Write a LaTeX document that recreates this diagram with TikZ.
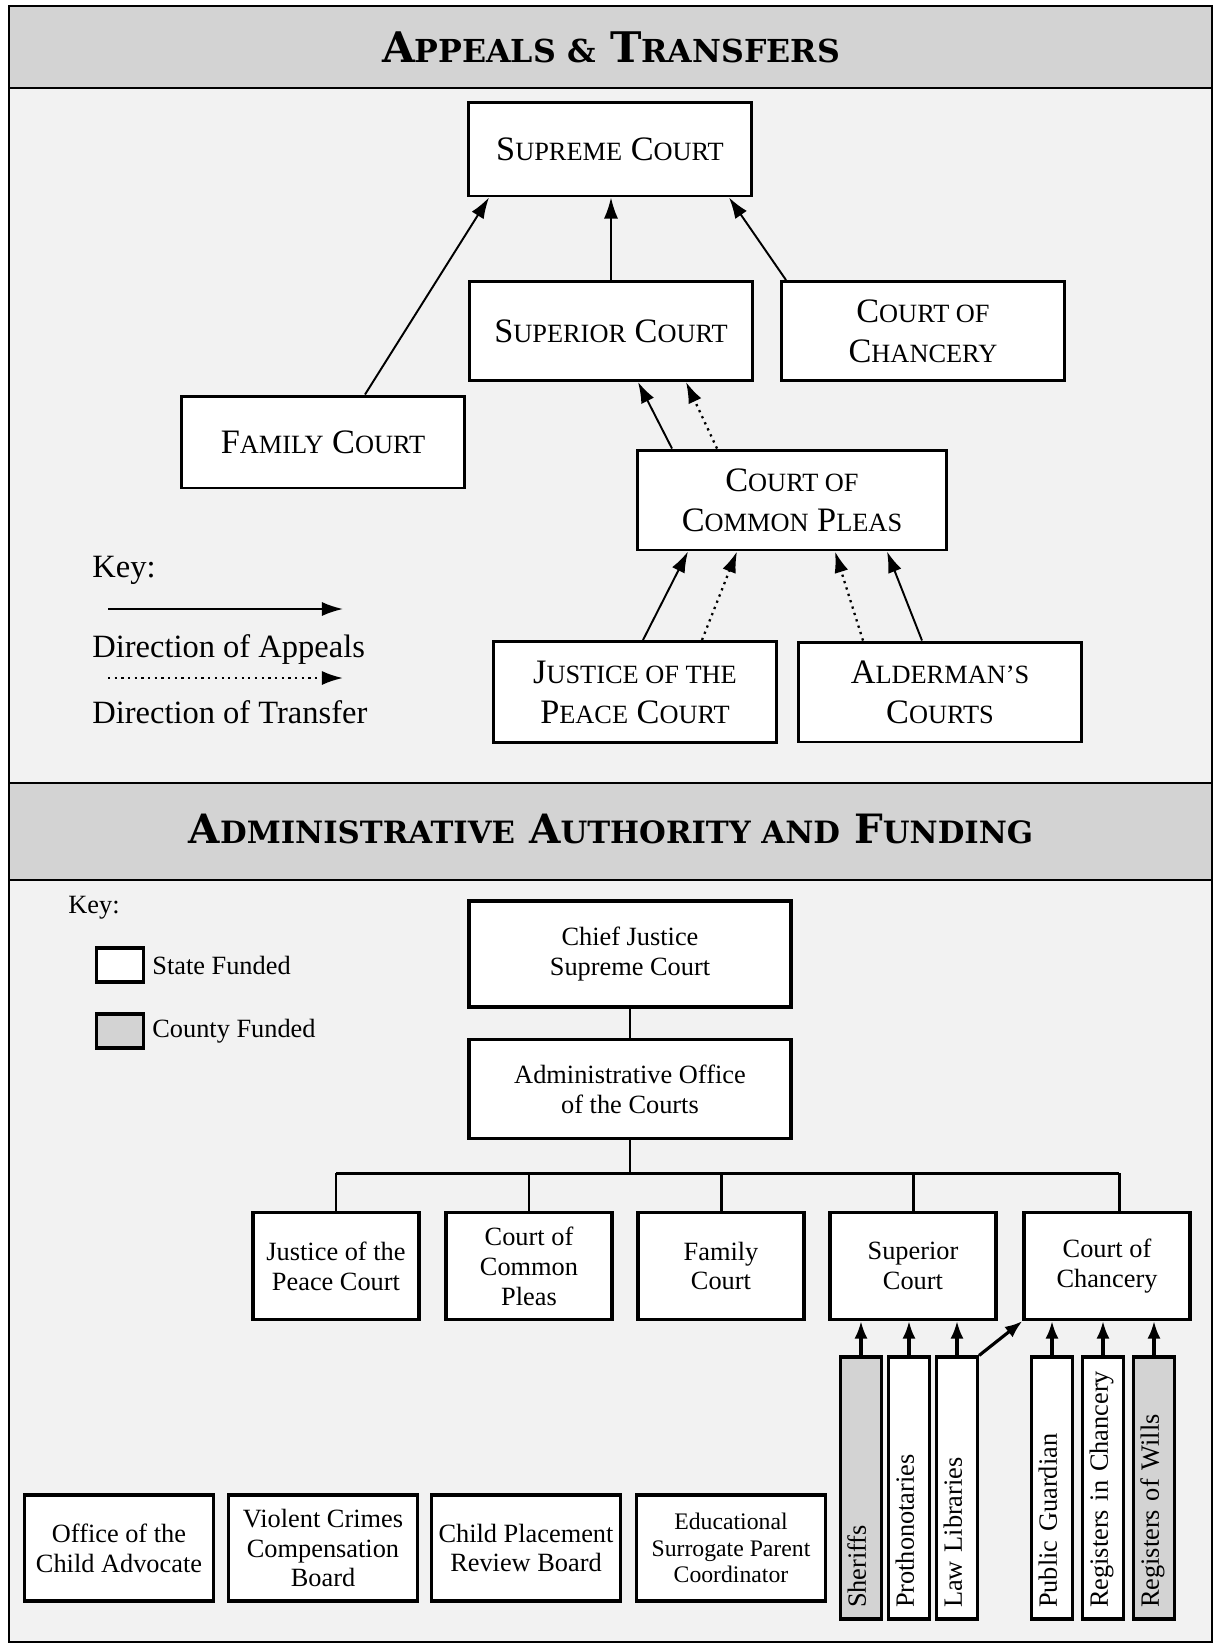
\documentclass[tikz,border=0pt]{standalone}
\usepackage{fontspec}
\setmainfont{Liberation Serif}
\newfontfamily\headfont{DejaVu Serif}
\usetikzlibrary{arrows.meta}

\definecolor{headgray}{RGB}{211,211,211}
\definecolor{panelgray}{RGB}{242,242,242}

\newcommand{\boxcaps}[1]{{\fontsize{15}{18}\selectfont #1}}
\newcommand{\headcaps}[1]{{\fontsize{17.5}{20}\selectfont #1}}
\newcommand{\bigheadcaps}[1]{{\fontsize{18}{20}\selectfont #1}}

\begin{document}
\begin{tikzpicture}[x=0.02cm,y=-0.02cm,
        court/.style={draw,line width=1.7pt,fill=white,align=center,inner sep=0pt,font=\fontsize{19.5}{22.7}\selectfont},
        unit/.style={draw,line width=1.8pt,fill=white,align=center,inner sep=0pt,font=\fontsize{15}{17}\selectfont,minimum width=3.32cm,minimum height=2.14cm},
        staff/.style={unit,rotate=90,text width=4.8cm,align=left,inner xsep=0.22cm,minimum height=0.82cm,text height=1.5ex,text depth=0.3ex},
        plain/.style={inner sep=0pt,anchor=base west},
        appeal/.style={-{Latex[length=12pt,width=8pt]},line width=1.1pt},
        transfer/.style={appeal,dash pattern=on 1.3pt off 2.5pt,line width=1.3pt},
        link/.style={line width=1.7pt},
        report/.style={-{Latex[length=10pt,width=7.5pt]},line width=1.8pt}]

    \useasboundingbox (0,0) rectangle (1217,1644);

    \fill[headgray] (9,6) rectangle (1212,88);
    \fill[panelgray] (9,88) rectangle (1212,783);
    \fill[headgray] (9,783) rectangle (1212,880);
    \fill[panelgray] (9,880) rectangle (1212,1642);
    \begin{scope}[line width=1.5pt]
        \draw (9,6) rectangle (1212,1642);
        \draw (9,88) -- (1212,88);
        \draw (9,783) -- (1212,783);
        \draw (9,880) -- (1212,880);
    \end{scope}

    \node[font=\headfont\bfseries\fontsize{24}{26}\selectfont] (apptitle) at (611,47) {A\bigheadcaps{PPEALS \&} T\bigheadcaps{RANSFERS}};
    \node[font=\headfont\bfseries\fontsize{23}{26}\selectfont] (admtitle) at (611,829) {A\headcaps{DMINISTRATIVE} A\headcaps{UTHORITY AND} F\headcaps{UNDING}};

    % appeals and transfers
    \node[court,minimum width=5.68cm,minimum height=1.88cm] (supreme) at (610,149) {S\boxcaps{UPREME} C\boxcaps{OURT}};
    \node[court,minimum width=5.68cm,minimum height=1.98cm] (superior) at (611,331) {S\boxcaps{UPERIOR} C\boxcaps{OURT}};
    \node[court,minimum width=5.66cm,minimum height=1.98cm] (chancery) at (923,331) {C\boxcaps{OURT OF}\\C\boxcaps{HANCERY}};
    \node[court,minimum width=5.68cm,minimum height=1.84cm] (family) at (323,442) {F\boxcaps{AMILY} C\boxcaps{OURT}};
    \node[court,minimum width=6.2cm,minimum height=2cm] (pleas) at (792,500) {C\boxcaps{OURT OF}\\C\boxcaps{OMMON} P\boxcaps{LEAS}};
    \node[court,minimum width=5.68cm,minimum height=2.02cm] (peace) at (635,692) {J\boxcaps{USTICE OF THE}\\P\boxcaps{EACE} C\boxcaps{OURT}};
    \node[court,minimum width=5.66cm,minimum height=2cm] (alderman) at (940,692) {A\boxcaps{LDERMAN’S}\\C\boxcaps{OURTS}};

    \draw[appeal] ([shift={(42,0)}]family.north) -- ([shift={(-121,0)}]supreme.south);
    \draw[appeal] (superior.north) -- (superior.north |- supreme.south);
    \draw[appeal] ([shift={(-137,0)}]chancery.north) -- ([shift={(119,0)}]supreme.south);
    \draw[appeal] ([shift={(-120,0)}]pleas.north) -- ([shift={(27,0)}]superior.south);
    \draw[transfer] ([shift={(-75,0)}]pleas.north) -- ([shift={(75,0)}]superior.south);
    \draw[appeal] ([shift={(8,0)}]peace.north) -- ([shift={(-104,0)}]pleas.south);
    \draw[transfer] ([shift={(67,0)}]peace.north) -- ([shift={(-55,0)}]pleas.south);
    \draw[transfer] ([shift={(-77,0)}]alderman.north) -- ([shift={(43,0)}]pleas.south);
    \draw[appeal] ([shift={(-18,0)}]alderman.north) -- ([shift={(95,0)}]pleas.south);

    \begin{scope}[font=\fontsize{18.5}{22}\selectfont]
        \node[plain] (arrowkey) at (92,577) {Key:};
        \coordinate (appealL) at (108,609);
        \coordinate (appealR) at (343,609);
        \draw[appeal] (appealL) -- (appealR);
        \node[plain] (appealtxt) at (92,657) {Direction of Appeals};
        \coordinate (transferL) at (108,678);
        \coordinate (transferR) at (343,678);
        \draw[transfer] (transferL) -- (transferR);
        \node[plain] (transfertxt) at (92,723) {Direction of Transfer};
    \end{scope}

    % administrative authority and funding
    \begin{scope}[font=\fontsize{15}{17}\selectfont]
        \node[plain] (fundkey) at (68,913) {Key:};
        \node[draw,line width=1.8pt,fill=white,minimum width=0.94cm,minimum height=0.68cm,inner sep=0pt] (statebox) at (120,965) {};
        \node[draw,line width=1.8pt,fill=headgray,minimum width=0.94cm,minimum height=0.68cm,inner sep=0pt] (countybox) at (120,1031) {};
        \node[plain] (statetxt) at (152,974) {State Funded};
        \node[plain] (countytxt) at (152,1037) {County Funded};
    \end{scope}

    \node[unit,minimum width=6.44cm,minimum height=2.12cm] (chief) at (630,954) {Chief Justice\\Supreme Court};
    \node[unit,minimum width=6.44cm,minimum height=1.98cm] (aoc) at (630,1089) {Administrative Office\\of the Courts};
    \draw[link] (chief.south) -- (aoc.north);

    \foreach \name/\x/\txt in {peacecourt/336/{Justice of the\\Peace Court},
            pleascourt/529/{Court of\\Common\\Pleas},
            familycourt/721/{Family\\Court},
            superiorcourt/913/{Superior\\Court},
            chancerycourt/1107/{Court of\\Chancery}}{%
        \node[unit] (\name) at (\x,1266) {\txt};
    }

    \coordinate (busW) at (336,1173);
    \coordinate (busE) at (1119,1173);
    \draw[link] (aoc.south) -- (aoc.south |- busW);
    \draw[link] (busW) -- (busE);
    \foreach \name in {peacecourt,pleascourt,familycourt,superiorcourt}{%
        \draw[link] (\name.north) -- (\name.north |- busW);
    }
    \draw[link] (busE) -- (busE |- chancerycourt.north);

    % rotated boxes: east is the top end
    \foreach \name/\x/\shade/\txt in {sheriffs/861/headgray/Sheriffs,
            prothonotaries/909/white/Prothonotaries,
            lawlibraries/957/white/Law Libraries,
            guardian/1052/white/Public Guardian,
            chanceryregisters/1103/white/Registers in Chancery,
            wills/1154/headgray/Registers of Wills}{%
        \node[staff,fill=\shade] (\name) at (\x,1488) {\txt};
    }

    \foreach \name in {sheriffs,prothonotaries,lawlibraries}{%
        \draw[report] (\name.east) -- (\name.east |- superiorcourt.south);
    }
    \foreach \name in {guardian,chanceryregisters,wills}{%
        \draw[report] (\name.east) -- (\name.east |- chancerycourt.south);
    }
    \draw[report] (lawlibraries.south east) -- (chancerycourt.south west);

    \foreach \name/\x/\txt in {advocate/119/{Office of the\\Child Advocate},
            victims/323/{Violent Crimes\\Compensation\\Board},
            placement/526/{Child Placement\\Review Board}}{%
        \node[unit,minimum width=3.78cm,minimum height=2.12cm] (\name) at (\x,1548) {\txt};
    }
    \node[unit,minimum width=3.78cm,minimum height=2.12cm,font=\fontsize{13.5}{14.9}\selectfont] (surrogate) at (731,1548) {Educational\\Surrogate Parent\\Coordinator};

\end{tikzpicture}
\end{document}
